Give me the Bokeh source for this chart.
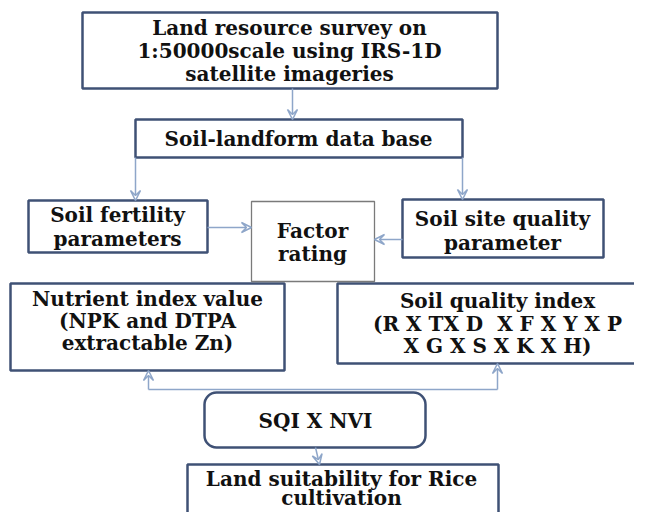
from bokeh.plotting import figure
from bokeh.models import Range1d, Arrow, VeeHead, ColumnDataSource
from bokeh.core.properties import value
from bokeh.embed import file_html
from bokeh.resources import INLINE

# ---- data: flowchart nodes (image pixel coordinates) ----
node_names = ["survey", "database", "fertility", "factor", "site",
              "nutrient", "sqi", "product", "suitability"]
node_left = [82, 135, 28, 251, 402, 10, 337, 204, 187]
node_right = [497, 462, 207, 374, 603, 284, 648, 425, 498]
node_top = [12, 119, 200, 201, 199, 283, 283, 392, 464]
node_bottom = [88, 157, 252, 281, 257, 370, 363, 447, 540]

NB = "\u00a0"
label_lines = ["Land resource survey on", "1:50000scale using IRS-1D", "satellite imageries",
               "Soil-landform data base",
               "Soil fertility", "parameters",
               "Factor", "rating",
               "Soil site quality", "parameter",
               "Nutrient index value", "(NPK and DTPA", "extractable Zn)",
               "Soil quality index", "(R X TX D" + NB + NB + "X F X Y X P", "X G X S X K X H)",
               "SQI X NVI",
               "Land suitability for Rice", "cultivation"]
label_x = [289, 289, 289, 298, 117, 117, 312, 312, 502, 502,
           147, 147, 147, 497, 497, 497, 315, 341, 341]
label_y = [27, 50, 73, 138, 214, 238, 230, 253, 218, 242,
           298, 320, 342, 300, 323, 345, 420, 478, 497]

arrow_x0 = [292, 135, 462, 207, 402, 148, 497, 315]
arrow_y0 = [88, 157, 157, 227, 239, 389, 389, 447]
arrow_x1 = [292, 135, 462, 251, 374, 148, 497, 319]
arrow_y1 = [119, 200, 199, 227, 239, 370, 363, 464]

link_x = [148, 497]
link_y = [389, 389]

p = figure(width=634, height=512, output_backend="svg", toolbar_location=None,
           x_range=Range1d(0, 634), y_range=Range1d(512, 0), min_border=0)
p.axis.visible = False
p.grid.visible = False
p.outline_line_color = None
p.background_fill_color = "white"

dark = "#3f5175"
arrow_col = "#8ea6c9"

# square boxes (all except factor and product)
sq = [i for i in range(len(node_names)) if node_names[i] not in ("factor", "product")]
p.quad(left=[node_left[i] for i in sq], right=[node_right[i] for i in sq],
       top=[node_top[i] for i in sq], bottom=[node_bottom[i] for i in sq],
       fill_color="white", line_color=dark, line_width=2.5)
fi = node_names.index("factor")
p.quad(left=[node_left[fi]], right=[node_right[fi]], top=[node_top[fi]], bottom=[node_bottom[fi]],
       fill_color="white", line_color="#7a7a7a", line_width=1.3)
pi = node_names.index("product")
p.quad(left=[node_left[pi]], right=[node_right[pi]], top=[node_top[pi]], bottom=[node_bottom[pi]],
       fill_color="white", line_color=dark, line_width=2.5, border_radius=12)

p.line(link_x, link_y, line_color=arrow_col, line_width=1.5)
for x0, y0, x1, y1 in zip(arrow_x0, arrow_y0, arrow_x1, arrow_y1):
    p.add_layout(Arrow(x_start=x0, y_start=y0, x_end=x1, y_end=y1,
                       line_color=arrow_col, line_width=1.5,
                       end=VeeHead(size=10, line_color=arrow_col, line_width=1.5,
                                   fill_color=None)))

src = ColumnDataSource(dict(x=label_x, y=label_y, t=label_lines))
p.text(x="x", y="y", text="t", source=src, text_font=value("DejaVu Serif"),
       text_font_style="bold", text_font_size="20px", text_align="center",
       text_baseline="middle", text_color="#111111")

open("out.html", "w").write(file_html(p, INLINE))
